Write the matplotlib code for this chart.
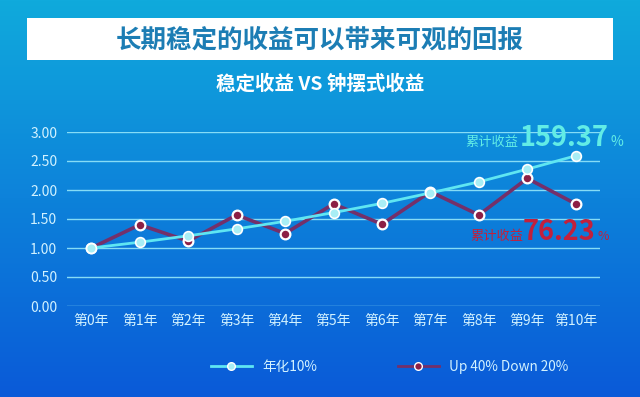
import numpy as np
import matplotlib.pyplot as plt
from matplotlib.patches import Rectangle
from matplotlib.lines import Line2D

plt.rcParams['font.family'] = ['Noto Sans CJK SC', 'DejaVu Sans']

years = ['第0年', '第1年', '第2年', '第3年', '第4年', '第5年',
         '第6年', '第7年', '第8年', '第9年', '第10年']
steady = [1.00, 1.10, 1.21, 1.33, 1.46, 1.61, 1.77, 1.95, 2.14, 2.36, 2.59]
swing = [1.00, 1.40, 1.12, 1.57, 1.25, 1.76, 1.41, 1.97, 1.57, 2.20, 1.76]
yticks = [0.0, 0.5, 1.0, 1.5, 2.0, 2.5, 3.0]

W, H = 640, 397
fig = plt.figure(figsize=(W / 100, H / 100), dpi=100)

# background gradient
bg = fig.add_axes([0, 0, 1, 1])
grad = np.linspace(0, 1, 256).reshape(-1, 1)
top = np.array([0x10, 0xaa, 0xdc]) / 255
bot = np.array([0x0a, 0x5a, 0xd8]) / 255
img = top + (bot - top) * grad[:, :, None]
bg.imshow(img, aspect='auto', extent=[0, 1, 0, 1])
bg.set_xlim(0, 1)
bg.set_ylim(0, 1)
bg.axis('off')

# title banner
bg.add_patch(Rectangle((27 / W, 1 - 60 / H), 586 / W, 42 / H,
                       facecolor='white', edgecolor='none'))
bg.text(0.5, 1 - 40 / H, '长期稳定的收益可以带来可观的回报', ha='center', va='center',
        fontsize=18.4, fontweight='bold', color='#1c7db4')
bg.text(0.5, 1 - 84 / H, '稳定收益 VS 钟摆式收益', ha='center', va='center',
        fontsize=14, fontweight='bold', color='white')

ax = fig.add_axes([67 / W, 1 - 306 / H, 533 / W, 174 / H])
ax.patch.set_alpha(0)
x = np.arange(len(years))

ax.plot(x, swing, color='#74306a', lw=2.6, zorder=3,
        marker='o', ms=7, mfc='#8c1f45', mec='white', mew=1.6)
ax.plot(x, steady, color='#5fe6f2', lw=2, zorder=4,
        marker='o', ms=7, mfc='#a8eef5', mec='white', mew=1.2)

ax.set_xlim(-0.5, len(years) - 0.5)
ax.set_ylim(0, 3.0)
ax.set_yticks(yticks)
ax.set_yticklabels(['%.2f' % v for v in yticks])
ax.set_xticks(x)
ax.set_xticklabels(years)
ax.tick_params(length=0, colors='#d2f2ff', labelsize=10)
ax.tick_params(axis='x', pad=6)
ax.tick_params(axis='y', pad=7)
for s in ax.spines.values():
    s.set_visible(False)
ax.grid(axis='y', color='#86dcf6', lw=1)
ax.set_axisbelow(True)

# end annotations
ax.text(8.82, 2.76, '累计收益', color='#62ece6', fontsize=9.5, ha='right', va='baseline')
ax.text(8.85, 2.76, '159.37', color='#62ece6', fontsize=19.5, fontweight='bold',
        ha='left', va='baseline')
ax.text(10.72, 2.76, '%', color='#62ece6', fontsize=10, ha='left', va='baseline')

ax.text(7.82, 1.14, '累计收益', color='#c2203c', fontsize=9.5, ha='left', va='baseline')
ax.text(8.9, 1.14, '76.23', color='#c2203c', fontsize=19.5, fontweight='bold',
        ha='left', va='baseline')
ax.text(10.44, 1.14, '%', color='#c2203c', fontsize=9, ha='left', va='baseline')

handles = [
    Line2D([], [], color='#5fe6f2', lw=2, marker='o', ms=5.5, mfc='#a8eef5', mec='white'),
    Line2D([], [], color='#74306a', lw=2, marker='o', ms=5.5, mfc='#8c1f45', mec='white'),
]
leg = fig.legend(handles, ['年化10%', 'Up 40% Down 20%'], loc='center',
                 bbox_to_anchor=(0.609, 1 - 367 / H), ncol=2, frameon=False,
                 fontsize=9.8, labelcolor='#d2f2ff', columnspacing=5.9, handlelength=3)

plt.savefig('out.png', dpi=100)
